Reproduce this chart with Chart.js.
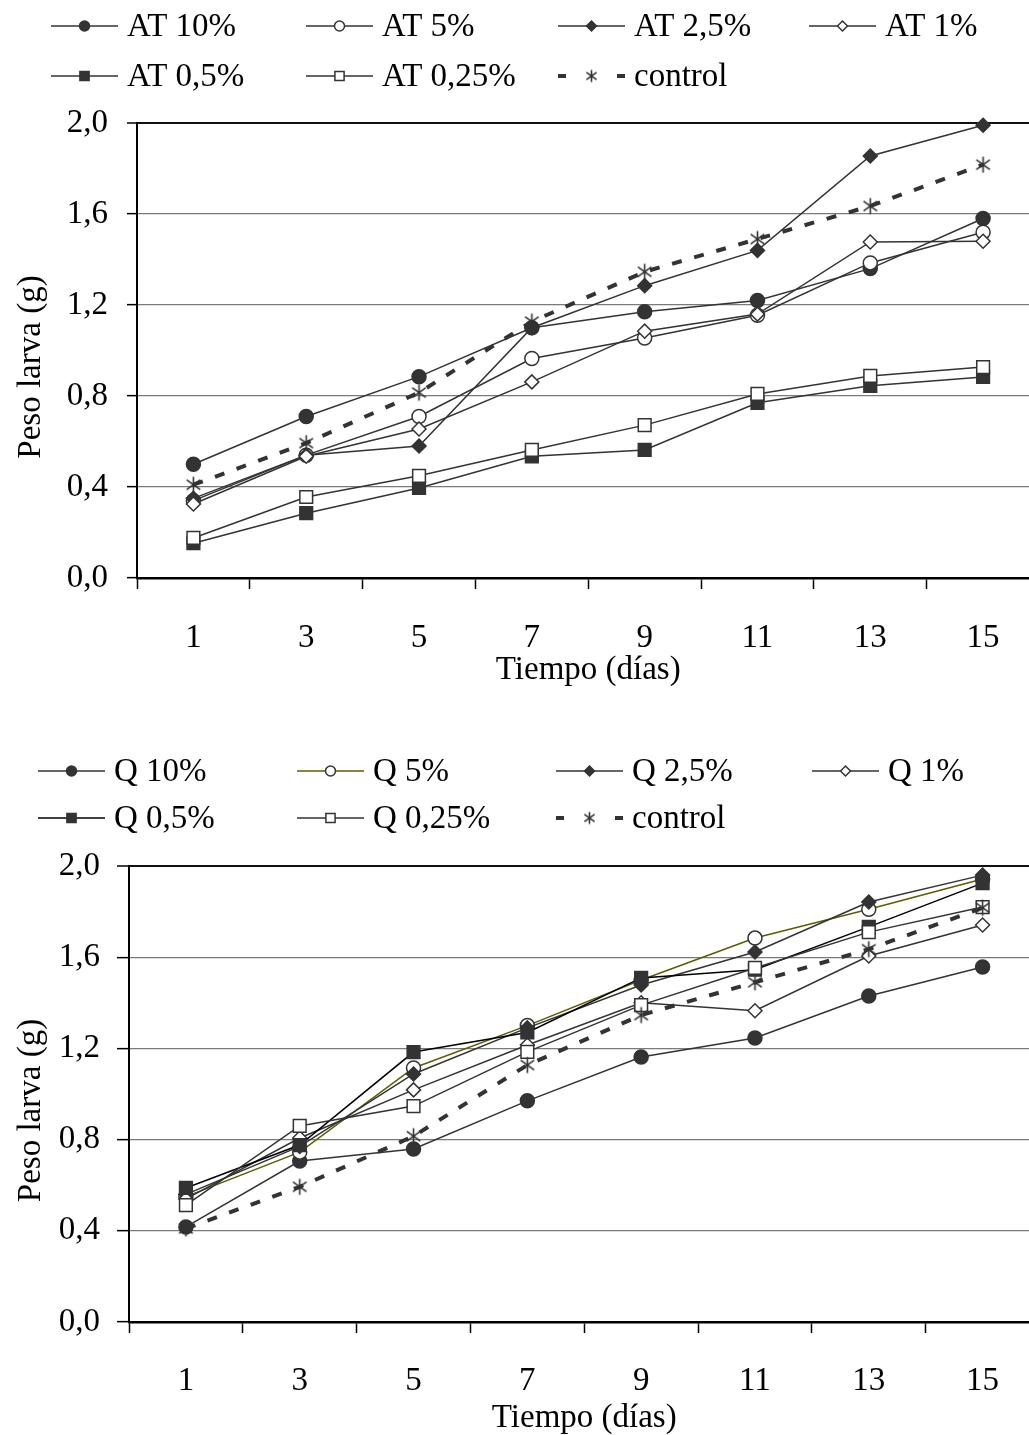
<!DOCTYPE html>
<html>
<head>
<meta charset="utf-8">
<script src="https://cdn.jsdelivr.net/npm/chart.js@4.4.1/dist/chart.umd.min.js"></script>
<style>
  html, body { margin: 0; padding: 0; background: #fff; overflow: hidden; width: 1029px; height: 1435px; }
  canvas { position: absolute; left: 0; }
  #graficoAT { top: 0; }
  #graficoQ { top: 740px; }
</style>
</head>
<body>
<canvas id="graficoAT" width="1050" height="700"></canvas>
<canvas id="graficoQ" width="1050" height="705"></canvas>
<script>
// días de muestreo (eje x)
var dias = ['1', '3', '5', '7', '9', '11', '13', '15'];
// marcas del eje y
var pesoTicks = [0, 0.4, 0.8, 1.2, 1.6, 2.0];

// peso larva (g) - tratamientos AT
var at10 = [0.50, 0.71, 0.885, 1.10, 1.17, 1.22, 1.36, 1.58];
var at5 = [0.34, 0.54, 0.71, 0.965, 1.055, 1.155, 1.385, 1.52];
var at25 = [0.35, 0.54, 0.58, 1.10, 1.285, 1.44, 1.855, 1.99];
var at1 = [0.325, 0.535, 0.655, 0.862, 1.085, 1.16, 1.477, 1.48];
var at05 = [0.153, 0.285, 0.396, 0.535, 0.563, 0.77, 0.845, 0.884];
var at025 = [0.176, 0.356, 0.449, 0.563, 0.672, 0.809, 0.888, 0.927];

// peso larva (g) - tratamientos Q
var q10 = [0.417, 0.706, 0.759, 0.97, 1.162, 1.246, 1.43, 1.557];
var q5 = [0.55, 0.745, 1.114, 1.30, 1.50, 1.684, 1.81, 1.943];
var q25 = [0.56, 0.77, 1.088, 1.29, 1.478, 1.623, 1.842, 1.96];
var q1 = [0.54, 0.807, 1.018, 1.215, 1.40, 1.365, 1.605, 1.741];
var q05 = [0.588, 0.776, 1.184, 1.27, 1.509, 1.545, 1.733, 1.925];
var q025 = [0.513, 0.86, 0.947, 1.185, 1.39, 1.553, 1.71, 1.82];

// control (igual en los dos graficos)
var control = [0.41, 0.593, 0.815, 1.127, 1.346, 1.49, 1.635, 1.817];

var FUENTE = '"Liberation Serif", "Times New Roman", serif';
Chart.defaults.font.family = FUENTE;
Chart.defaults.font.size = 33;
Chart.defaults.color = '#000';

// asterisco de 6 brazos para el control (como el marcador de Excel)
function asterisco(tam) {
  var c = document.createElement('canvas');
  c.width = tam;
  c.height = tam;
  var g = c.getContext('2d');
  var m = tam / 2, r = tam / 2 - 1.5;
  g.strokeStyle = '#333';
  g.lineWidth = 1.6;
  g.beginPath();
  g.moveTo(m, m - r); g.lineTo(m, m + r);
  g.moveTo(m - r * 0.85, m - r * 0.6); g.lineTo(m + r * 0.85, m + r * 0.6);
  g.moveTo(m + r * 0.85, m - r * 0.6); g.lineTo(m - r * 0.85, m + r * 0.6);
  g.stroke();
  return c;
}
var estrella = asterisco(19);
var estrellaLeyenda = asterisco(15);

var nSerie = 0;
function serie(label, data, estilo, relleno, color, radio) {
  nSerie++;
  return {
    label: label,
    data: data,
    order: -(nSerie % 7),
    borderColor: color || '#333',
    borderWidth: 1.5,
    pointStyle: estilo,
    pointRadius: radio || 7,
    pointHoverRadius: radio || 7,
    pointBorderColor: '#333',
    pointBackgroundColor: relleno ? '#333' : '#fff',
    pointBorderWidth: 1.5,
    tension: 0,
    fill: false,
    clip: false
  };
}

function serieControl() {
  return {
    label: 'control',
    data: control,
    order: -10,
    borderColor: '#333',
    borderWidth: 4,
    borderDash: [10, 13],
    pointStyle: estrella,
    leyendaPunto: estrellaLeyenda,
    pointRadius: 8,
    pointHoverRadius: 8,
    pointBorderColor: '#333',
    pointBackgroundColor: '#333',
    pointBorderWidth: 1.5,
    tension: 0,
    fill: false,
    clip: false
  };
}

// leyenda en rejilla de 4 columnas, dibujada sobre el canvas
var leyendaRejilla = {
  id: 'leyendaRejilla',
  afterDraw: function(chart, args, opts) {
    var ctx = chart.ctx;
    var sets = chart.data.datasets;
    ctx.save();
    for (var i = 0; i < sets.length; i++) {
      var ds = sets[i];
      var x = opts.cols[i % 4];
      var y = opts.rows[Math.floor(i / 4)];
      var largo = 67;
      ctx.strokeStyle = ds.borderColor;
      ctx.lineWidth = ds.borderWidth;
      ctx.setLineDash(ds.borderDash ? [8, largo - 16] : []);
      ctx.beginPath();
      ctx.moveTo(x, y);
      ctx.lineTo(x + largo, y);
      ctx.stroke();
      ctx.setLineDash([]);
      ctx.strokeStyle = ds.pointBorderColor;
      ctx.fillStyle = ds.pointBackgroundColor;
      ctx.lineWidth = ds.pointBorderWidth;
      Chart.helpers.drawPoint(ctx, {
        pointStyle: ds.leyendaPunto || ds.pointStyle,
        radius: ds.pointStyle === 'rect' ? 6.5 : 5,
        borderWidth: ds.pointBorderWidth,
        rotation: 0
      }, x + largo / 2, y);
      ctx.fillStyle = '#000';
      ctx.font = '33px ' + FUENTE;
      ctx.textBaseline = 'middle';
      ctx.textAlign = 'left';
      ctx.fillText(ds.label, x + largo + 9, y + 1);
    }
    ctx.restore();
  }
};

function opciones(cfg) {
  return {
    responsive: false,
    animation: false,
    layout: { padding: { top: cfg.arriba, right: cfg.derecha, left: 0, bottom: 0 } },
    plugins: {
      legend: { display: false },
      tooltip: { enabled: false },
      leyendaRejilla: { cols: cfg.cols, rows: cfg.filas }
    },
    scales: {
      x: {
        type: 'category',
        offset: true,
        afterFit: function(s) { s.height = cfg.altoX; },
        grid: { offset: true, drawOnChartArea: false, drawTicks: true, tickLength: 11, tickColor: '#000', tickWidth: 1.5 },
        border: { color: '#000', width: 2.5 },
        ticks: { padding: cfg.padX, maxRotation: 0, autoSkip: false, color: '#000' },
        title: { display: true, text: 'Tiempo (días)', color: '#000', padding: { top: 0, bottom: cfg.tituloX } }
      },
      y: {
        min: 0,
        max: 2,
        afterFit: function(s) { s.width = cfg.anchoY; },
        afterBuildTicks: function(s) { s.ticks = pesoTicks.map(function(v) { return { value: v }; }); },
        grid: {
          color: function(c) { return c.tick && c.tick.value === 2 ? '#111' : '#7a7a7a'; },
          lineWidth: function(c) { return c.tick && c.tick.value === 2 ? 2 : 1.3; },
          drawTicks: true,
          tickLength: cfg.tickY,
          tickColor: '#000',
          tickWidth: 1.5
        },
        border: { color: '#000', width: 2 },
        ticks: {
          padding: cfg.padY,
          color: '#000',
          callback: function(v) { return Number(v).toFixed(1).replace('.', ','); }
        },
        title: { display: true, text: 'Peso larva (g)    ', color: '#000', padding: { top: 12, bottom: 0 } }
      }
    }
  };
}

new Chart(document.getElementById('graficoAT'), {
  type: 'line',
  data: {
    labels: dias,
    datasets: [
      serie('AT 10%', at10, 'circle', true),
      serie('AT 5%', at5, 'circle', false),
      serie('AT 2,5%', at25, 'rectRot', true),
      serie('AT 1%', at1, 'rectRot', false),
      serie('AT 0,5%', at05, 'rect', true, '#333', 9),
      serie('AT 0,25%', at025, 'rect', false, '#333', 9),
      serieControl()
    ]
  },
  options: opciones({
    arriba: 123, derecha: 5, altoX: 122, anchoY: 137, tickY: 10, padY: 19,
    padX: 30, tituloX: 10,
    cols: [51, 306, 558, 809], filas: [26, 76]
  }),
  plugins: [leyendaRejilla]
});

nSerie = 0;
new Chart(document.getElementById('graficoQ'), {
  type: 'line',
  data: {
    labels: dias,
    datasets: [
      serie('Q 10%', q10, 'circle', true),
      serie('Q 5%', q5, 'circle', false, '#5c5c00'),
      serie('Q 2,5%', q25, 'rectRot', true),
      serie('Q 1%', q1, 'rectRot', false),
      serie('Q 0,5%', q05, 'rect', true, '#000', 9),
      serie('Q 0,25%', q025, 'rect', false, '#333', 9),
      serieControl()
    ]
  },
  options: opciones({
    arriba: 126, derecha: 9, altoX: 123, anchoY: 129, tickY: 12, padY: 17,
    padX: 29, tituloX: 7,
    cols: [38, 297, 556, 812], filas: [31, 78]
  }),
  plugins: [leyendaRejilla]
});
</script>
</body>
</html>
